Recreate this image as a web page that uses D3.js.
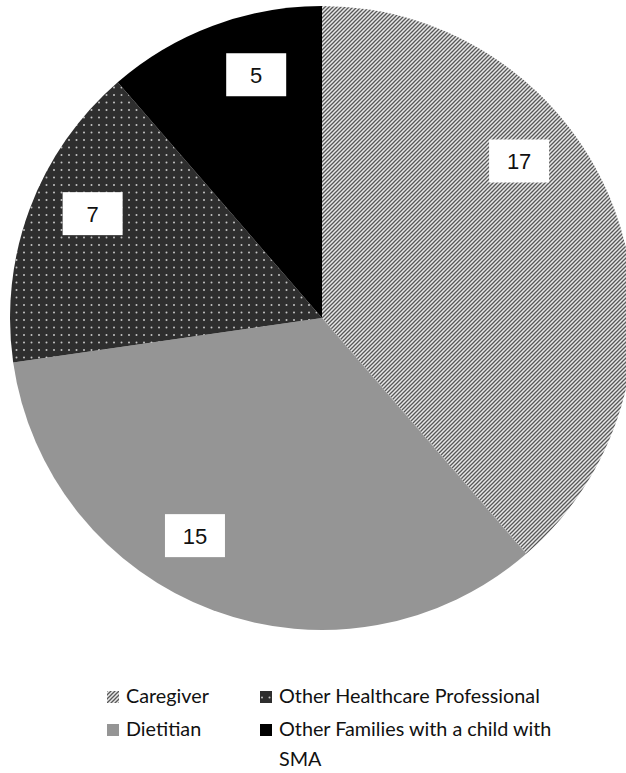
<!DOCTYPE html>
<html>
<head>
<meta charset="utf-8">
<script src="https://cdn.jsdelivr.net/npm/d3@7"></script>
<style>
  body { margin: 0; background: #fff; }
  svg { display: block; }
  .slice-label { font-family: "Liberation Sans", Arial, sans-serif; font-size: 22px; fill: #111; }
  .legend-text { font-family: Lato, "Open Sans", sans-serif; font-size: 19.8px; fill: #111; }
</style>
</head>
<body>
<svg id="chart"></svg>
<script>
// chart data
const categories = ['Caregiver', 'Dietitian', 'Other Healthcare Professional', 'Other Families with a child with SMA'];
const counts = [17, 15, 7, 5];
const fills = ['url(#stripes)', '#959595', 'url(#dots)', '#000000'];
// legend order (two columns, two rows) as shown under the pie
const legendOrder = ['Caregiver', 'Other Healthcare Professional', 'Dietitian', 'Other Families with a child with SMA'];

const width = 626, height = 773;
const cx = 322, cy = 318, radius = 312;

const svg = d3.select('#chart')
    .attr('width', width)
    .attr('height', height);

// fill patterns
const defs = svg.append('defs');
const stripes = defs.append('pattern')
    .attr('id', 'stripes')
    .attr('patternUnits', 'userSpaceOnUse')
    .attr('width', 4)
    .attr('height', 4);
stripes.append('rect').attr('width', 4).attr('height', 4).attr('fill', '#e8e8e8');
stripes.append('path')
    .attr('d', 'M-1,1 l2,-2 M0,4 l4,-4 M3,5 l2,-2')
    .attr('stroke', '#585858')
    .attr('stroke-width', 1.3);

const dots = defs.append('pattern')
    .attr('id', 'dots')
    .attr('patternUnits', 'userSpaceOnUse')
    .attr('width', 15)
    .attr('height', 15);
dots.append('rect').attr('width', 15).attr('height', 15).attr('fill', '#2e2e2e');
[[2, 2], [9.5, 2], [2, 9.5], [9.5, 9.5]].forEach(([x, y]) => {
    dots.append('circle').attr('cx', x).attr('cy', y).attr('r', 1).attr('fill', '#c4c4c4');
});

const colorScale = d3.scaleOrdinal().domain(categories).range(fills);

const data = categories.map((c, i) => ({ key: c, value: counts[i] }));

const pie = d3.pie()
    .value(d => d.value)
    .sort(null);

const arc = d3.arc()
    .innerRadius(0)
    .outerRadius(radius);

const chart = svg.append('g')
    .attr('transform', `translate(${cx},${cy})`);

const arcs = pie(data);

chart.selectAll('.slice')
    .data(arcs)
    .join('path')
        .attr('class', 'slice')
        .attr('d', arc)
        .attr('fill', d => colorScale(d.data.key));

// value labels in white boxes; the original puts them a bit off the mid angle
const labelFrac = [0.37, 0.58, 0.57, 0.63];
const labelRadius = 252;
const boxW = 60, boxH = 43;

const labels = chart.selectAll('.label')
    .data(arcs)
    .join('g')
        .attr('class', 'label')
        .attr('transform', (d, i) => {
            const a = d.startAngle + (d.endAngle - d.startAngle) * labelFrac[i];
            return `translate(${Math.sin(a) * labelRadius},${-Math.cos(a) * labelRadius})`;
        });

labels.append('rect')
    .attr('x', -boxW / 2)
    .attr('y', -boxH / 2)
    .attr('width', boxW)
    .attr('height', boxH)
    .attr('fill', '#fff');

labels.append('text')
    .attr('class', 'slice-label')
    .attr('text-anchor', 'middle')
    .attr('dy', '0.36em')
    .text(d => d.data.value);

// legend
const colX = [107, 260];
const rowY = [703, 736];
const legend = svg.append('g').attr('class', 'legend');

legendOrder.forEach((key, i) => {
    const x = colX[i % 2], y = rowY[Math.floor(i / 2)];
    const item = legend.append('g').attr('transform', `translate(${x},${y})`);
    item.append('rect')
        .attr('x', 0)
        .attr('y', -12)
        .attr('width', 12)
        .attr('height', 12)
        .attr('fill', colorScale(key));
    const t = item.append('text')
        .attr('class', 'legend-text')
        .attr('x', 19)
        .attr('y', 0);
    // wrap the long entry like the original
    if (key === 'Other Families with a child with SMA') {
        t.append('tspan').attr('x', 19).text('Other Families with a child with');
        t.append('tspan').attr('x', 19).attr('dy', 30).text('SMA');
    } else {
        t.text(key);
    }
});
</script>
</body>
</html>
